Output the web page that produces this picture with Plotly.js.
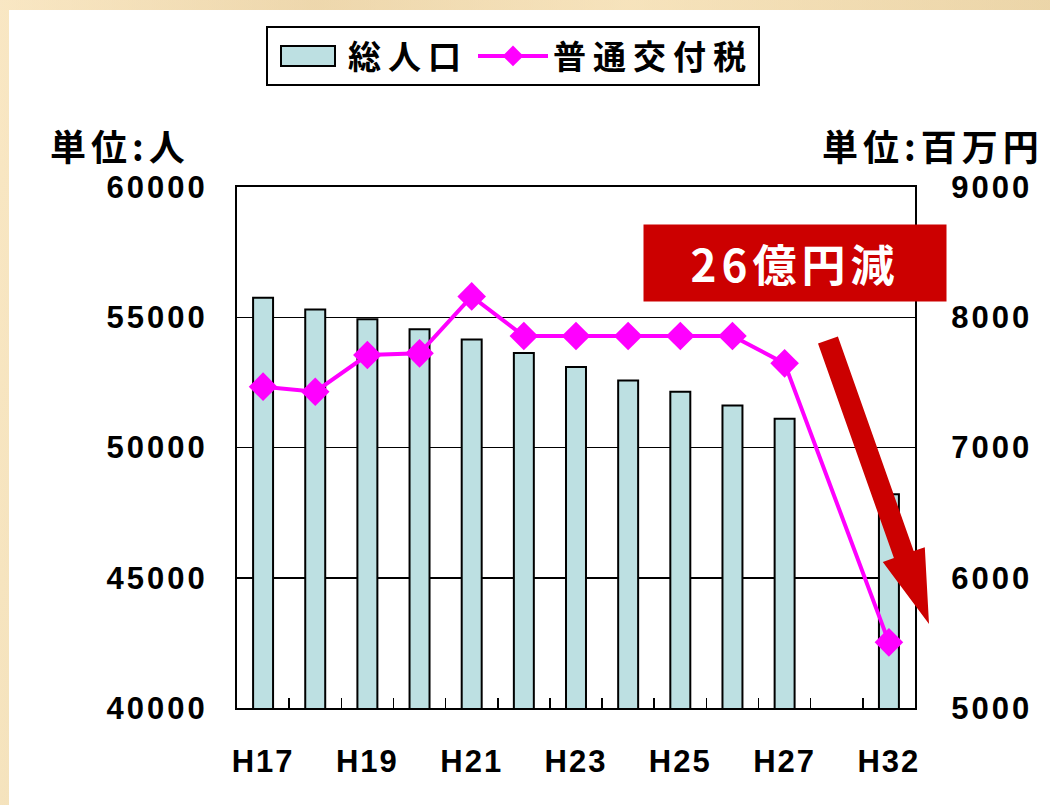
<!DOCTYPE html>
<html>
<head>
<meta charset="utf-8">
<script src="https://cdn.plot.ly/plotly-3.0.1.min.js"></script>
<style>
  html, body { margin: 0; padding: 0; }
  body {
    width: 1050px; height: 805px; overflow: hidden;
    background: #efd9ae;
    background-image:
      linear-gradient(90deg, rgba(255,240,210,0.5) 0%, rgba(230,205,160,0.4) 30%, rgba(250,232,195,0.5) 60%, rgba(225,200,150,0.4) 100%),
      linear-gradient(180deg, rgba(245,225,185,0.6), rgba(232,212,165,0.6));
  }
  #chart { position: absolute; left: 9px; top: 10px; width: 1041px; height: 795px; background: #fff; }
  #chart .ytick text, #chart .y2tick text { letter-spacing: 3px; }
  #chart .xtick text { letter-spacing: 2px; }
  text.legendtext { letter-spacing: 7px; }
  text.annotation-text { letter-spacing: 5px; }
</style>
</head>
<body>
<div id="chart"></div>
<script>
// ---- data ----
const categories = ['H17','H18','H19','H20','H21','H22','H23','H24','H25','H26','H27',' ','H32'];
const population = [55750, 55300, 54920, 54540, 54150, 53630, 53090, 52570, 52140, 51610, 51100, null, 48210];
const localTax   = [7467, 7428, 7710, 7723, 8160, 7856, 7856, 7856, 7856, 7856, 7646, null, 5504];
const seriesNames = ['総人口', '普通交付税'];
const leftUnit = '単位:人';
const rightUnit = '単位:百万円';
const calloutText = '26億円減';

// ---- layout geometry helpers (decoration placement) ----
const W = 1041, H = 795;
const M = {l: 228, r: 135, t: 177, b: 97};
const PW = W - M.l - M.r, PH = H - M.t - M.b;
const OX = 9, OY = 10; // offset of chart div in page
function px(x) { return (x - OX - M.l) / PW; }
function py(y) { return (H - M.b - (y - OY)) / PH; }

const numFont = {family: 'Liberation Sans, Arial, sans-serif', size: 31, color: '#000', weight: 'bold'};
const jpFont = {family: 'Noto Sans CJK JP, sans-serif', size: 36, color: '#000', weight: 'bold'};

const traces = [
  {
    type: 'bar', name: seriesNames[0], x: categories, y: population, yaxis: 'y',
    marker: {color: '#bde0e2', line: {color: '#000', width: 2}}
  },
  {
    type: 'scatter', mode: 'lines+markers', name: seriesNames[1], x: categories, y: localTax, yaxis: 'y2',
    connectgaps: true,
    line: {color: '#ff00ff', width: 4},
    marker: {symbol: 'diamond', size: 22, color: '#ff00ff'}
  }
];

// arrow polygon (page px)
const arrowPts = [[818,343.5],[893.9,558.1],[882.8,562],[929,624],[924.8,547.2],[913.7,551.1],[837.9,336.5]];
const arrowPath = 'M ' + arrowPts.map(p => px(p[0]) + ',' + py(p[1])).join(' L ') + ' Z';

const layout = {
  width: W, height: H,
  margin: M,
  paper_bgcolor: '#ffffff', plot_bgcolor: '#ffffff',
  showlegend: true,
  bargap: 0.617,
  legend: {
    orientation: 'h', x: px(513), xanchor: 'center', y: py(26), yanchor: 'top',
    bgcolor: '#fff', bordercolor: '#000', borderwidth: 2,
    font: Object.assign({}, jpFont, {size: 33}), itemwidth: 70, traceorder: 'normal',
    tracegroupgap: 0
  },
  xaxis: {
    type: 'category', categoryorder: 'array', categoryarray: categories,
    range: [-0.5, categories.length - 0.5], autorange: false,
    showline: true, linecolor: '#000', linewidth: 2, mirror: true,
    ticks: 'inside', tickson: 'boundaries', ticklen: 10, tickwidth: 1.5, tickcolor: '#000',
    ticklabelstep: 2, tickangle: 0, showgrid: false, tickfont: Object.assign({}, numFont, {size: 31}),
    ticklabelstandoff: 25, fixedrange: true
  },
  yaxis: {
    range: [40000, 60000], dtick: 5000, tick0: 40000, tickformat: 'd',
    showgrid: true, gridcolor: '#000', gridwidth: 1.5, zeroline: false,
    showline: true, linecolor: '#000', linewidth: 2, mirror: true,
    ticks: '', tickfont: numFont, ticklabelstandoff: 21
  },
  yaxis2: {
    overlaying: 'y', side: 'right',
    range: [5000, 9000], dtick: 1000, tick0: 5000, tickformat: 'd',
    showgrid: false, zeroline: false, showline: true, linecolor: '#000', linewidth: 2,
    ticks: '', tickfont: numFont, ticklabelstandoff: 28
  },
  annotations: [
    {xref: 'paper', yref: 'paper', x: px(120), y: py(145), xanchor: 'center', yanchor: 'middle',
     text: leftUnit, showarrow: false, font: jpFont},
    {xref: 'paper', yref: 'paper', x: px(933), y: py(145), xanchor: 'center', yanchor: 'middle',
     text: rightUnit, showarrow: false, font: jpFont},
    {xref: 'paper', yref: 'paper', x: px(795), y: py(263), xanchor: 'center', yanchor: 'middle',
     text: calloutText, showarrow: false, width: 302, height: 76, bgcolor: '#cc0000', borderpad: 0,
     font: {family: 'Noto Sans CJK JP, sans-serif', size: 44, color: '#fff', weight: 'bold'}}
  ],
  shapes: [
    {type: 'path', xref: 'paper', yref: 'paper', path: arrowPath,
     fillcolor: '#cc0000', line: {width: 0}, layer: 'above'}
  ]
};

function widenBarSwatch() {
  const groups = document.querySelectorAll('#chart .legend g.traces');
  if (!groups.length) return;
  groups[0].querySelectorAll('.legendpoints path').forEach(function (p) {
    p.setAttribute('d', 'M-27,10H27V-10H-27Z');
    p.style.strokeWidth = '2px';
    p.style.stroke = '#000';
  });
}

Plotly.newPlot('chart', traces, layout, {displayModeBar: false, staticPlot: true}).then(function () {
  widenBarSwatch();
  setTimeout(widenBarSwatch, 50);
});
</script>
</body>
</html>
